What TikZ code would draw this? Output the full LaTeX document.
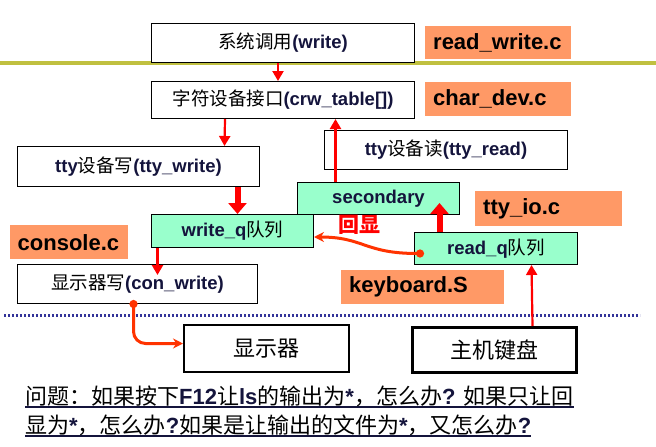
\documentclass[tikz,border=0pt]{standalone}
\usepackage{fontspec}
\setmainfont{Liberation Sans}
\newfontfamily\zhfont{Noto Sans CJK SC}
\usetikzlibrary{arrows.meta}
\definecolor{ink}{RGB}{20,20,60}
\definecolor{aqua}{RGB}{153,255,204}
\definecolor{peach}{RGB}{255,153,102}
\definecolor{mustard}{RGB}{192,192,64}
\definecolor{dotblue}{RGB}{51,51,153}
\definecolor{flame}{RGB}{255,51,0}
\newcommand\zh[1]{{\zhfont\mdseries\color{black}#1}}
\newcommand\qunder[1]{\setbox0=\hbox{#1}\rlap{\rule[-4pt]{\wd0}{1.6pt}}\box0}
\tikzset{x=1pt, y=-1pt, % one unit per pixel, y runs downwards
plain/.style={draw, line width=1pt, fill=white, inner sep=0pt, anchor=north west, text=ink, font=\fontsize{18.5}{21}\selectfont\bfseries}, % white function box
queue/.style={plain, fill=aqua}, % the tty queues
device/.style={plain, line width=2pt, font=\fontsize{22}{26}\selectfont}, % hardware below the dotted line
tag/.style={fill=peach, anchor=north west, inner sep=0pt, inner xsep=8pt, text width=#1, align=left, font=\fontsize{22}{26}\selectfont\bfseries}, % source file labels
feed/.style={red, line width=2.2pt, -{Triangle[width=11pt,length=10pt]}},
bulk/.style={red, line width=6pt, -{Triangle[width=18pt,length=11pt]}},
loopback/.style={flame, line width=3pt, {Circle[length=8pt]}-{Stealth[width=10pt,length=10pt]}},
}
\begin{document}
\begin{tikzpicture}
    \useasboundingbox (0,0) rectangle (656,447);
    \draw[mustard, line width=4pt] (0,63) -- (656,63);
    \draw[dotblue, line width=3pt, dash pattern=on 2pt off 2pt] (4,315) -- (640,315);

    \node[plain, minimum width=263pt, minimum height=39pt] (sys) at (151,23) {\zh{系统调用}(write)};
    \node[plain, minimum width=263pt, minimum height=37pt] (crw) at (151,81) {\zh{字符设备接口}(crw\_table[])};
    \node[plain, minimum width=242pt, minimum height=40pt] (ttyw) at (17,146) {tty\zh{设备写}(tty\_write)};
    \node[plain, minimum width=243pt, minimum height=39pt] (ttyr) at (324,130) {tty\zh{设备读}(tty\_read)};
    \node[queue, minimum width=162pt, minimum height=32pt] (sec) at (297,182) {secondary};
    \node[queue, minimum width=162pt, minimum height=33pt] (wq) at (151,214) {write\_q\zh{队列}};
    \node[queue, minimum width=163pt, minimum height=32pt] (rq) at (414,232) {read\_q\zh{队列}};
    \node[plain, minimum width=240pt, minimum height=39pt] (conw) at (17,264) {\zh{显示器写}(con\_write)};
    \node[device, minimum width=165pt, minimum height=47pt] (disp) at (183,324) {\zh{显示器}};
    \node[device, line width=3pt, minimum width=164pt, minimum height=45pt] (kbd) at (411,326) {\zh{主机键盘}};

    \node[tag=130pt, minimum height=33pt] (lrw) at (425,26) {read\_write.c};
    \node[tag=130pt, minimum height=34pt] (lcd) at (425,82) {char\_dev.c};
    \node[tag=131pt, minimum height=35pt] (ltio) at (475,191) {tty\_io.c};
    \node[tag=103pt, inner xsep=7.5pt, minimum height=34pt] (lcon) at (10,225) {console.c};
    \node[tag=147pt, minimum height=34pt] (lkbd) at (341,270) {keyboard.S};
    \node[red, font=\fontsize{21}{24}\selectfont] (echo) at (359,225) {{\zhfont\bfseries 回显}};

    \draw[feed] ([xshift=-5pt]sys.south) -- ([xshift=-5pt]crw.north);
    \draw[feed] ([xshift=-58pt]crw.south) -- ([xshift=86pt]ttyw.north);
    \draw[feed] ([xshift=-43pt]sec.north) -- ([xshift=52.5pt]crw.south);
    \draw[bulk] ([xshift=99pt]ttyw.south) -- ([xshift=5pt]wq.north);
    \draw[bulk] ([xshift=-56.5pt]rq.north) -- ([xshift=61pt,yshift=12pt]sec.south);
    \draw[feed] ([xshift=-75pt]wq.south) -- ([xshift=20pt,yshift=-11pt]conw.north);
    \draw[feed] ([xshift=38pt]kbd.north) -- ([xshift=35.5pt]rq.south);
    \draw[loopback] ([xshift=10pt,yshift=-5pt]rq.west) .. controls +(-60,0) and +(50,0) .. ([yshift=-6pt]wq.east);
    \draw[loopback, rounded corners=12pt] ([xshift=-4pt,yshift=4pt]conw.south) |- ([yshift=5pt]disp.west);

    % the question under the picture
    \node[anchor=base west, inner sep=0pt, text=ink, font=\fontsize{22}{26}\selectfont\bfseries] (q1) at (25,404)
      {\qunder{\zh{问题：如果按下}F12\zh{让}ls\zh{的输出为}*\zh{，怎么办}? \zh{如果只让回}}};
    \node[anchor=base west, inner sep=0pt, text=ink, font=\fontsize{22}{26}\selectfont\bfseries] (q2) at (25,433)
      {\qunder{\zh{显为}*\zh{，怎么办}?\zh{如果是让输出的文件为}*\zh{，又怎么办}?}};
\end{tikzpicture}
\end{document}
